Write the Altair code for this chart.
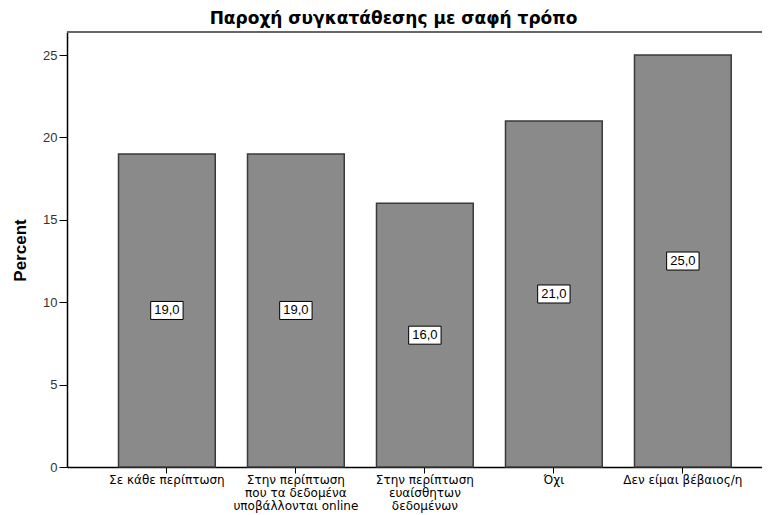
import altair as alt
import pandas as pd

categories = [
    "Σε κάθε περίπτωση",
    "Στην περίπτωση|που τα δεδομένα|υποβάλλονται online",
    "Στην περίπτωση|ευαίσθητων|δεδομένων",
    "Όχι",
    "Δεν είμαι βέβαιος/η",
]
values = [19.0, 19.0, 16.0, 21.0, 25.0]
y_ticks = [0, 5, 10, 15, 20, 25]

df = pd.DataFrame({"cat": categories, "pct": values})

FONT = "Liberation Sans"
WIDE = "DejaVu Sans"
W, H = 695, 435

x_enc = alt.X(
    "cat:N",
    sort=None,
    scale=alt.Scale(paddingInner=0.25, paddingOuter=0.319, align=0.626),
    axis=alt.Axis(
        title="",
        labelAngle=0,
        labelExpr="split(datum.label, '|')",
        labelLineHeight=13,
        labelFontSize=12,
        labelFont=WIDE,
        labelColor="black",
        labelBaseline="top",
        labelPadding=1,
        labelLimit=0,
        tickSize=6,
        tickColor="black",
        domainColor="black",
        domainWidth=1.5,
        grid=False,
    ),
)

y_scale = alt.Scale(domain=[0, 26.4], nice=False)

bars = alt.Chart(df).mark_bar(
    color="#8a8a8a", stroke="#3a3a3a", strokeWidth=1.5
).encode(
    x=x_enc,
    y=alt.Y(
        "pct:Q",
        scale=y_scale,
        axis=alt.Axis(
            values=y_ticks,
            grid=False,
            title="Percent",
            titleFont=FONT,
            titleFontSize=17,
            titleFontWeight="bold",
            titleColor="black",
            titleAngle=-90,
            titleX=-47,
            titleY=218,
            titleAlign="center",
            titleBaseline="middle",
            labelFont=FONT,
            labelFontSize=13,
            labelColor="#333333",
            labelPadding=2,
            tickSize=8,
            tickColor="black",
            domainColor="black",
            domainWidth=1.5,
        ),
    ),
)

base_lbl = alt.Chart(df).transform_calculate(
    mid="datum.pct / 2",
    txt="replace(format(datum.pct, '.1f'), '.', ',')",
)

boxes = base_lbl.mark_point(
    shape="M-1.8,-1H1.8V1H-1.8Z",
    filled=True,
    fill="white",
    stroke="black",
    strokeWidth=1,
    size=324,
    opacity=1,
).encode(
    x=alt.X("cat:N", sort=None),
    y=alt.Y("mid:Q", scale=y_scale),
)

texts = base_lbl.mark_text(
    font=FONT, fontSize=13, color="black", baseline="middle", align="center"
).encode(
    x=alt.X("cat:N", sort=None),
    y=alt.Y("mid:Q", scale=y_scale),
    text="txt:N",
)

top_border = alt.Chart(df).mark_rule(color="#666666", strokeWidth=2).encode(
    x=alt.value(0), x2=alt.value(W), y=alt.value(0)
)

chart = (
    alt.layer(bars, boxes, texts, top_border)
    .properties(
        width=W,
        height=H,
        autosize=alt.AutoSizeParams(type="none"),
        padding={"left": 59, "top": 24, "right": 0, "bottom": 48},
        title=alt.TitleParams(
            "Παροχή συγκατάθεσης με σαφή τρόπο",
            font=WIDE,
            fontSize=17,
            fontWeight="bold",
            color="black",
            anchor="middle",
            dx=-21,
            offset=3,
        ),
    )
    .configure_view(stroke="transparent", fill="#f0f0f0")
    .configure(background="white")
)

chart.save("out.html", embed_options={"renderer": "svg", "actions": False})
